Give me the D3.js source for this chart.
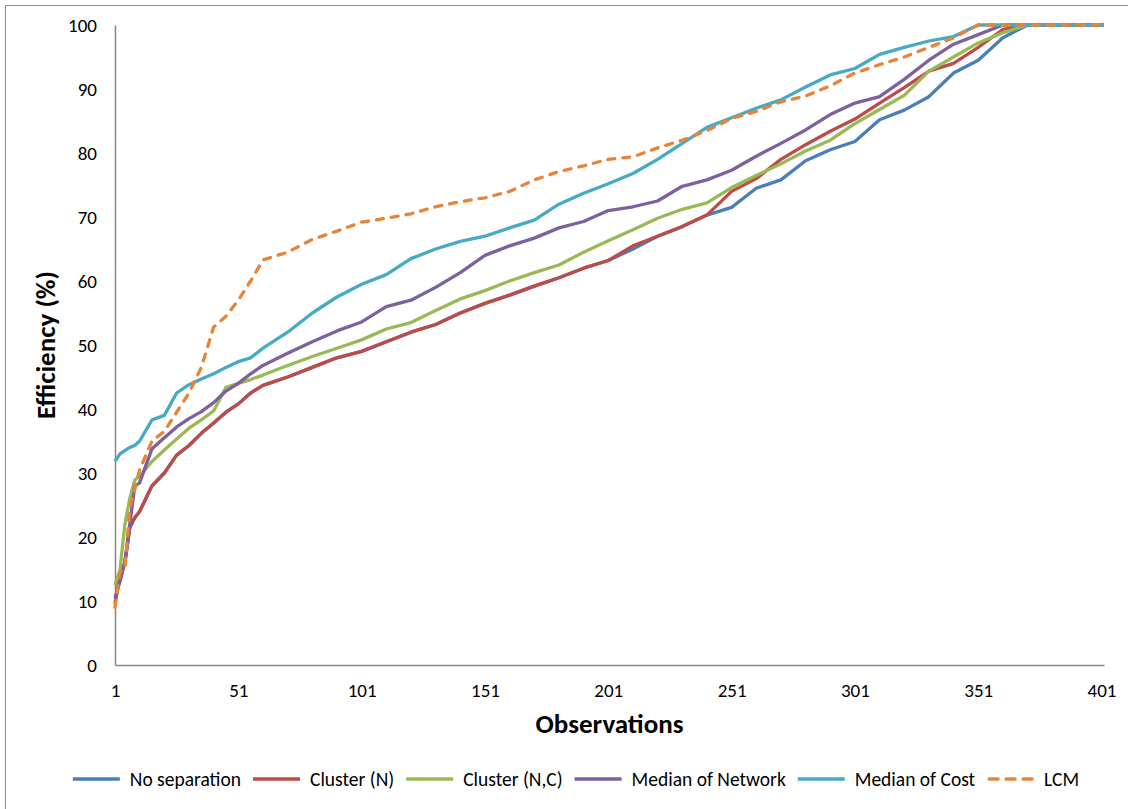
<!DOCTYPE html>
<html>
<head>
<meta charset="utf-8">
<script src="https://cdn.jsdelivr.net/npm/d3@7"></script>
<style>
  body { margin: 0; background: #fff; overflow: hidden; }
  .container text { font-family: Carlito, Calibri, Lato, sans-serif; fill: #000; }
</style>
</head>
<body>
<div class="container"></div>
<script>

const observations = [1, 3, 5, 7, 9, 11, 16, 21, 26, 31, 36, 41, 46, 51, 56, 61,
  71, 81, 91, 101, 111, 121, 131, 141, 151, 161, 171, 181, 191, 201, 211, 221, 231, 241,
  251, 261, 271, 281, 291, 301, 311, 321, 331, 341, 351, 361, 371, 381, 391, 401, 402];

const noSeparation = [9.8, 14, 16, 21.5, 23, 24, 28, 30, 32.8, 34.3, 36.2, 37.8, 39.5, 40.8, 42.5, 43.7,
  45, 46.5, 48, 49, 50.5, 52, 53.2, 55, 56.5, 57.8, 59.2, 60.5, 62, 63.2, 65, 67, 68.5, 70.3,
  71.5, 74.5, 75.8, 78.8, 80.5, 81.8, 85.2, 86.7, 88.8, 92.5, 94.5, 98, 100, 100, 100, 100, 100];

const clusterN = [9.5, 14, 16, 21.5, 23, 24, 28, 30, 32.8, 34.3, 36.2, 37.8, 39.5, 40.8, 42.5, 43.7,
  45, 46.5, 48, 49, 50.5, 52, 53.2, 55, 56.5, 57.8, 59.2, 60.5, 62, 63.2, 65.5, 67, 68.5, 70.3,
  74, 76, 79, 81.3, 83.4, 85.3, 87.8, 90.2, 92.8, 94, 96.5, 99.3, 100, 100, 100, 100, 100];

const clusterNC = [12.5, 14.8, 22, 26, 28.9, 29.5, 31.8, 33.6, 35.3, 37, 38.3, 39.7, 43.4, 44, 44.6, 45.3,
  46.8, 48.2, 49.5, 50.8, 52.5, 53.5, 55.4, 57.2, 58.5, 60, 61.3, 62.5, 64.5, 66.3, 68, 69.8, 71.2, 72.2,
  74.6, 76.5, 78.3, 80.3, 82, 84.6, 86.8, 89, 92.8, 95, 97.2, 98.8, 100, 100, 100, 100, 100];

const medianNetwork = [10.5, 13, 16, 22, 27.9, 28.5, 33.8, 35.5, 37.2, 38.5, 39.6, 41, 42.8, 44, 45.5, 46.8,
  48.7, 50.5, 52.2, 53.6, 56, 57, 59, 61.3, 64, 65.5, 66.7, 68.3, 69.3, 71, 71.6, 72.5, 74.8, 75.8,
  77.3, 79.5, 81.5, 83.6, 86, 87.8, 88.8, 91.5, 94.5, 97, 98.5, 100, 100, 100, 100, 100, 100];

const medianCost = [31.8, 33, 33.5, 34, 34.3, 35, 38.3, 39, 42.5, 43.8, 44.7, 45.5, 46.5, 47.4, 48, 49.5,
  52, 55, 57.5, 59.5, 61, 63.5, 65, 66.2, 67, 68.3, 69.5, 72, 73.7, 75.2, 76.8, 79, 81.5, 84,
  85.5, 87, 88.3, 90.3, 92.2, 93.2, 95.4, 96.5, 97.5, 98.2, 100, 100, 100, 100, 100, 100, 100];

const lcm = [9, 14.5, 15, 24.5, 27.5, 30.5, 35, 36.5, 39.5, 42.5, 46.5, 52.8, 54.5, 57, 60, 63.3,
  64.5, 66.5, 67.8, 69.2, 69.8, 70.5, 71.6, 72.4, 73, 74, 75.8, 77.1, 78, 79, 79.4, 80.8, 82, 83.5,
  85.4, 86.5, 88, 88.9, 90.5, 92.5, 93.8, 95, 96.5, 98, 100, 100, 100, 100, 100, 100, 100];

const seriesNames = ["No separation", "Cluster (N)", "Cluster (N,C)", "Median of Network", "Median of Cost", "LCM"];
const seriesColors = ["#4A7EBB", "#BE4B48", "#98B954", "#7D60A0", "#46AAC5", "#E6853A"];
const xTicks = [1, 51, 101, 151, 201, 251, 301, 351, 401];
const yTicks = [0, 10, 20, 30, 40, 50, 60, 70, 80, 90, 100];

const seriesValues = [noSeparation, clusterN, clusterNC, medianNetwork, medianCost, lcm];
const dataSet = seriesNames.map((name, i) => ({
  name: name,
  color: seriesColors[i],
  dashed: name === "LCM",
  points: observations.map((o, j) => ({ obs: o, value: seriesValues[i][j] }))
}));

const width = 1128;
const height = 809;
const plot = { left: 115, right: 1104, top: 25, bottom: 665 };
const axisColor = "#868686";
const fontFamily = "Carlito, Calibri, Lato, sans-serif";

const svg = d3.select(".container").append("svg")
  .attr("width", width)
  .attr("height", height);

// chart frame (only top and left edges are in view)
svg.append("line").attr("x1", 5.5).attr("x2", width).attr("y1", 5.5).attr("y2", 5.5)
  .attr("stroke", "#8c8c8c").attr("stroke-width", 1);
svg.append("line").attr("x1", 5.5).attr("x2", 5.5).attr("y1", 5.5).attr("y2", height)
  .attr("stroke", "#8c8c8c").attr("stroke-width", 1);

const xScale = d3.scaleLinear().domain([1, 402]).range([plot.left, plot.right]);
const yScale = d3.scaleLinear().domain([0, 100]).range([plot.bottom, plot.top]);

const xAxis = d3.axisBottom(xScale).tickValues(xTicks).tickFormat(d3.format("d"))
  .tickSize(0).tickPadding(19);
const yAxis = d3.axisLeft(yScale).tickValues(yTicks).tickSize(0).tickPadding(18);

const gx = svg.append("g").attr("id", "x-axis")
  .attr("transform", `translate(0,${plot.bottom})`)
  .call(xAxis);
const gy = svg.append("g").attr("id", "y-axis")
  .attr("transform", `translate(${plot.left},0)`)
  .call(yAxis);

[gx, gy].forEach(g => {
  g.select(".domain").attr("stroke", axisColor).attr("stroke-width", 1.5);
  g.selectAll("text").attr("font-size", 19).attr("fill", "#000")
    .style("font-family", fontFamily);
});

const line = d3.line()
  .x(d => xScale(d.obs))
  .y(d => yScale(d.value));

svg.append("g").selectAll("path")
  .data(dataSet)
  .enter()
  .append("path")
  .attr("d", d => line(d.points))
  .attr("fill", "none")
  .attr("stroke", d => d.color)
  .attr("stroke-width", 3.3)
  .attr("stroke-linejoin", "round")
  .attr("stroke-linecap", d => d.dashed ? "round" : "butt")
  .attr("stroke-dasharray", d => d.dashed ? "7,8" : null);

svg.append("text")
  .attr("x", (plot.left + plot.right) / 2)
  .attr("y", 733)
  .attr("text-anchor", "middle")
  .attr("font-size", 27)
  .attr("font-weight", "bold")
  .text("Observations");

svg.append("text")
  .attr("transform", `translate(55,${(plot.top + plot.bottom) / 2}) rotate(-90)`)
  .attr("text-anchor", "middle")
  .attr("font-size", 27)
  .attr("font-weight", "bold")
  .text("Efficiency (%)");

// legend, laid out from measured text widths and centred
const legend = svg.append("g").attr("class", "legend");
const legendY = 779;
const lineLen = 47, lineGap = 10, itemGap = 12;
const items = legend.selectAll("g")
  .data(dataSet)
  .enter()
  .append("g");

items.append("line")
  .attr("x1", 0).attr("x2", lineLen)
  .attr("y1", 0).attr("y2", 0)
  .attr("stroke", d => d.color)
  .attr("stroke-width", 3.3)
  .attr("stroke-linecap", d => d.dashed ? "round" : "butt")
  .attr("stroke-dasharray", d => d.dashed ? "9,8" : null)
  .attr("transform", d => d.dashed ? "translate(2,0)" : null);

items.append("text")
  .attr("x", lineLen + lineGap)
  .attr("y", 0)
  .attr("dy", "0.35em")
  .attr("font-size", 19.5)
  .text(d => d.name);

let cursor = 0;
const offsets = [];
items.each(function () {
  offsets.push(cursor);
  const w = d3.select(this).select("text").node().getComputedTextLength();
  cursor += lineLen + lineGap + w + itemGap;
});
const totalWidth = cursor - itemGap;
const startX = 576 - totalWidth / 2;
items.attr("transform", (d, i) => `translate(${startX + offsets[i]},${legendY})`);

</script>
</body>
</html>
